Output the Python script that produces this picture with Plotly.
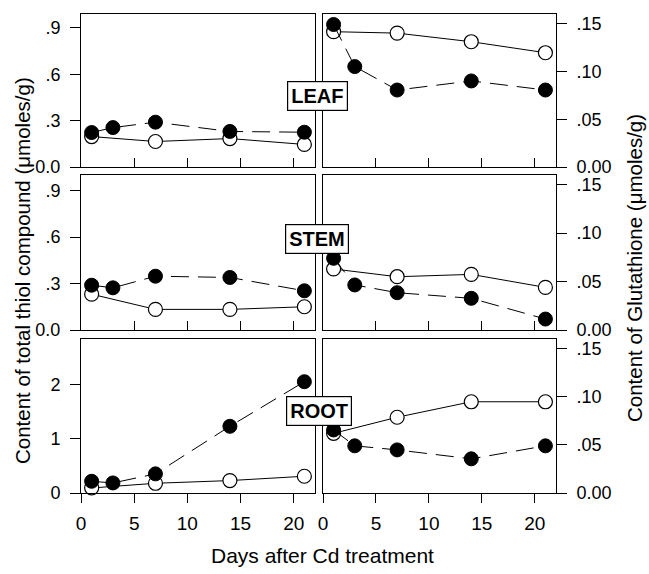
import plotly.graph_objects as go

days_filled = [1, 3, 7, 14, 21]
days_open = [1, 7, 14, 21]

leaf_thiol_filled = [0.223, 0.255, 0.29, 0.23, 0.225]
leaf_thiol_open = [0.197, 0.165, 0.184, 0.146]
leaf_gsh_filled = [0.149, 0.105, 0.0805, 0.09, 0.0805]
leaf_gsh_open = [0.1415, 0.14, 0.131, 0.1195]

stem_thiol_filled = [0.289, 0.272, 0.347, 0.339, 0.253]
stem_thiol_open = [0.231, 0.133, 0.133, 0.15]
stem_gsh_filled = [0.074, 0.0465, 0.0385, 0.0327, 0.0113]
stem_gsh_open = [0.063, 0.055, 0.0574, 0.044]

root_thiol_filled = [0.217, 0.186, 0.354, 1.235, 2.06]
root_thiol_open = [0.093, 0.18, 0.23, 0.31]
root_gsh_filled = [0.0655, 0.049, 0.0448, 0.0355, 0.049]
root_gsh_open = [0.062, 0.0787, 0.0948, 0.0948]

organs = ["LEAF", "STEM", "ROOT"]
x_ticks = [0, 5, 10, 15, 20]
thiol_ticks = [0, 0.3, 0.6, 0.9]
thiol_ticktext = ["0.0", ".3", ".6", ".9"]
root_thiol_ticks = [0, 1, 2]
root_thiol_ticktext = ["0", "1", "2"]
gsh_ticks = [0, 0.05, 0.10, 0.15]
gsh_ticktext = ["0.00", ".05", ".10", ".15"]

W, H = 649, 574

def px_x(a, b):
    return [a / W, b / W]

def px_y(top, bottom):
    return [1 - bottom / H, 1 - top / H]

col_dom = [px_x(81, 315), px_x(323, 556)]
row_dom = [px_y(14, 167), px_y(175, 330), px_y(339, 493)]

panels = [
    (0, 0, leaf_thiol_filled, leaf_thiol_open, [0, 0.99], thiol_ticks, thiol_ticktext),
    (0, 1, leaf_gsh_filled, leaf_gsh_open, [0, 0.16], gsh_ticks, gsh_ticktext),
    (1, 0, stem_thiol_filled, stem_thiol_open, [0, 1.0], thiol_ticks, thiol_ticktext),
    (1, 1, stem_gsh_filled, stem_gsh_open, [0, 0.16], gsh_ticks, gsh_ticktext),
    (2, 0, root_thiol_filled, root_thiol_open, [0, 2.85], root_thiol_ticks, root_thiol_ticktext),
    (2, 1, root_gsh_filled, root_gsh_open, [0, 0.16], gsh_ticks, gsh_ticktext),
]

fig = go.Figure()
font_family = "Liberation Sans, Arial, sans-serif"
layout = {}
for i, (r, c, yf, yo, yrange, yt, ytt) in enumerate(panels):
    n = i + 1
    xa = "x" if n == 1 else f"x{n}"
    ya = "y" if n == 1 else f"y{n}"
    fig.add_trace(go.Scatter(
        x=days_open, y=yo, xaxis=xa, yaxis=ya, mode="lines+markers",
        line=dict(color="black", width=1),
        marker=dict(symbol="circle", size=14, color="white",
                    line=dict(color="black", width=1.2)),
        showlegend=False, cliponaxis=False))
    fig.add_trace(go.Scatter(
        x=days_filled, y=yf, xaxis=xa, yaxis=ya, mode="lines+markers",
        line=dict(color="black", width=1, dash="18px,9px"),
        marker=dict(symbol="circle", size=14, color="black",
                    line=dict(color="black", width=1)),
        showlegend=False, cliponaxis=False))
    bottom = (r == 2)
    xkey = "xaxis" if n == 1 else f"xaxis{n}"
    ykey = "yaxis" if n == 1 else f"yaxis{n}"
    layout[xkey] = dict(
        domain=col_dom[c], anchor=ya, range=[0, 22], automargin=False,
        tickvals=x_ticks if bottom else [5, 10, 15, 20],
        ticktext=[str(v) for v in x_ticks] if bottom else None,
        showticklabels=bottom,
        ticks="outside" if bottom else "inside", ticklen=9,
        tickcolor="black", tickwidth=1, ticklabelstandoff=4,
        showline=True, linecolor="black", linewidth=1, mirror=True,
        showgrid=False, zeroline=False,
        tickfont=dict(family=font_family, size=19, color="black"))
    layout[ykey] = dict(
        domain=row_dom[r], anchor=xa, range=yrange, automargin=False,
        side="left" if c == 0 else "right",
        tickvals=yt, ticktext=ytt, ticks="outside", ticklen=10,
        tickcolor="black", tickwidth=1, ticklabelstandoff=6,
        showline=True, linecolor="black", linewidth=1, mirror=True,
        showgrid=False, zeroline=False,
        tickfont=dict(family=font_family, size=18, color="black"))

label_pos = [(317, 96), (316.5, 239.5), (319, 411)]
annotations = []
for name, (lx, ly) in zip(organs, label_pos):
    annotations.append(dict(
        text=f"<b>{name}</b>", x=lx / W, y=1 - ly / H, xref="paper", yref="paper",
        showarrow=False, xanchor="center", yanchor="middle",
        font=dict(family=font_family, size=20, color="black"),
        bgcolor="white", bordercolor="black", borderwidth=1.2, borderpad=3))

annotations.append(dict(
    text="Content of total thiol compound (\u03bcmoles/g)", x=22 / W, y=1 - 271 / H,
    xref="paper", yref="paper", showarrow=False, textangle=-90,
    xanchor="center", yanchor="middle",
    font=dict(family=font_family, size=20.5, color="black")))
annotations.append(dict(
    text="Content of Glutathione (\u03bcmoles/g)", x=635 / W, y=1 - 268 / H,
    xref="paper", yref="paper", showarrow=False, textangle=-90,
    xanchor="center", yanchor="middle",
    font=dict(family=font_family, size=20.5, color="black")))
annotations.append(dict(
    text="Days after Cd treatment", x=322 / W, y=1 - 555 / H,
    xref="paper", yref="paper", showarrow=False,
    xanchor="center", yanchor="middle",
    font=dict(family=font_family, size=21, color="black")))

fig.update_layout(
    width=W, height=H, margin=dict(l=0, r=0, t=0, b=0),
    paper_bgcolor="white", plot_bgcolor="white",
    annotations=annotations, **layout)

fig.write_html("out.html", config={"displayModeBar": False},
               post_script="document.body.style.margin='0';document.body.style.overflow='hidden';")
